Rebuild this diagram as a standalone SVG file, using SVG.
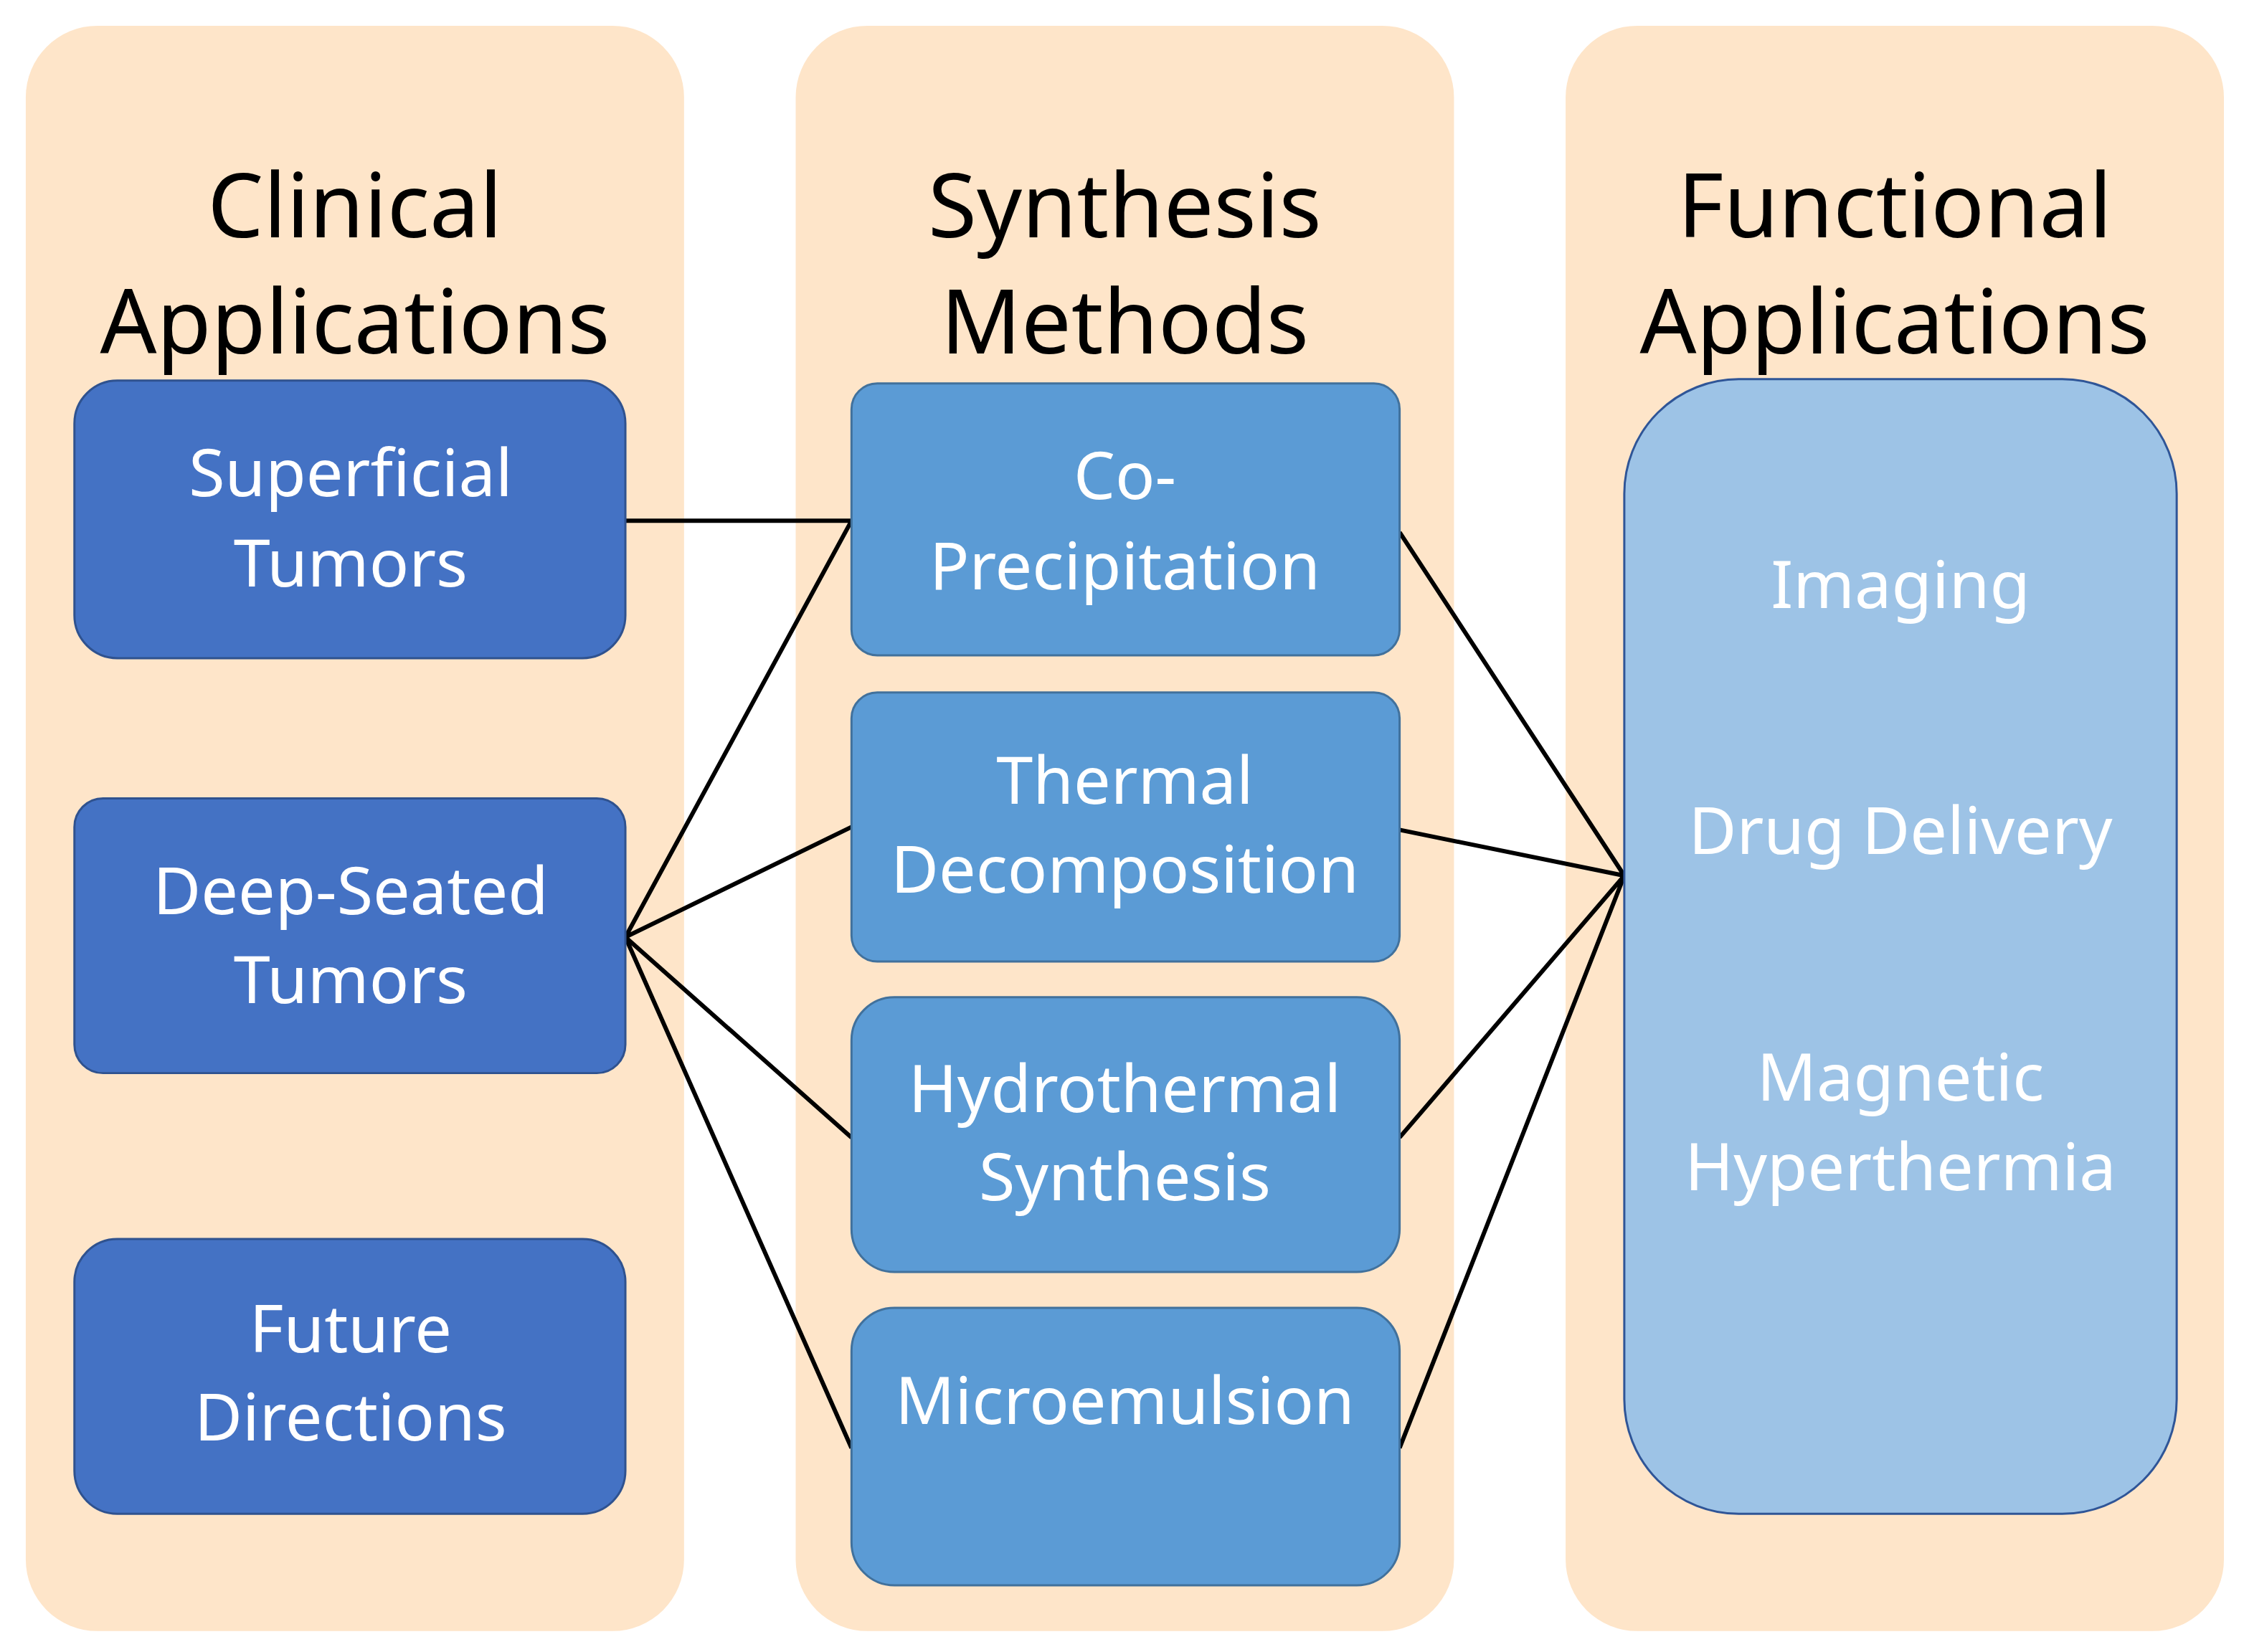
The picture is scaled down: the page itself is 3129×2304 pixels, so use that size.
<svg xmlns="http://www.w3.org/2000/svg" width="3129" height="2304" viewBox="0 0 3129 2304">
<style>
.col{fill:#FEE5C9}
.t{font-family:"Noto Sans","Open Sans",sans-serif;text-anchor:middle}
.h{font-size:62px;fill:#000}
.w{font-size:46px;fill:#fff}
.b1{fill:#4472C4;stroke:#2F528F;stroke-width:1.5}
.b2{fill:#5B9BD5;stroke:#41719C;stroke-width:1.5}
.b3{fill:#9DC3E6;stroke:#2F5597;stroke-width:1.5}
.c{stroke:#000;stroke-width:3;fill:none}
</style>
<rect width="3129" height="2304" fill="#fff"/>
<g transform="scale(1.9955)">
<g id="col-clinical"><rect class="col" x="18" y="18" width="460" height="1122" rx="50"/>
<text class="t h" x="248" y="166">Clinical</text><text class="t h" x="248" y="247">Applications</text></g>
<g id="col-synthesis"><rect class="col" x="556" y="18" width="460" height="1122" rx="50"/>
<text class="t h" x="786" y="166">Synthesis</text><text class="t h" x="786" y="247">Methods</text></g>
<g id="col-functional"><rect class="col" x="1094" y="18" width="460" height="1122" rx="50"/>
<text class="t h" x="1324" y="166">Functional</text><text class="t h" x="1324" y="247">Applications</text></g>
<g id="connectors">
<path class="c" d="M437 364H595L437 655L595 578M437 655L595 795M437 655L595 1012"/>
<path class="c" d="M978 372L1135 612M978 580L1135 612M978 795L1135 612M978 1012L1135 612"/>
</g>
<g id="superficial"><rect class="b1" x="52" y="266" width="385" height="194" rx="30"/>
<text class="t w" x="245" y="347">Superficial</text><text class="t w" x="245" y="410">Tumors</text></g>
<g id="deep"><rect class="b1" x="52" y="558" width="385" height="192" rx="20"/>
<text class="t w" x="245" y="639">Deep-Seated</text><text class="t w" x="245" y="701">Tumors</text></g>
<g id="future"><rect class="b1" x="52" y="866" width="385" height="192" rx="30"/>
<text class="t w" x="245" y="945">Future</text><text class="t w" x="245" y="1007">Directions</text></g>
<g id="coprec"><rect class="b2" x="595" y="268" width="383" height="190" rx="18"/>
<text class="t w" x="786" y="349">Co-</text><text class="t w" x="786" y="412">Precipitation</text></g>
<g id="thermal"><rect class="b2" x="595" y="484" width="383" height="188" rx="18"/>
<text class="t w" x="786" y="562">Thermal</text><text class="t w" x="786" y="624">Decomposition</text></g>
<g id="hydro"><rect class="b2" x="595" y="697" width="383" height="192" rx="30"/>
<text class="t w" x="786" y="777">Hydrothermal</text><text class="t w" x="786" y="839">Synthesis</text></g>
<g id="micro"><rect class="b2" x="595" y="914" width="383" height="194" rx="30"/>
<text class="t w" x="786" y="995">Microemulsion</text></g>
<g id="functional"><rect class="b3" x="1135" y="265" width="386" height="793" rx="80"/>
<text class="t w" x="1328" y="425">Imaging</text><text class="t w" x="1328" y="597">Drug Delivery</text>
<text class="t w" x="1328" y="769">Magnetic</text><text class="t w" x="1328" y="832">Hyperthermia</text></g>
</g>
</svg>
